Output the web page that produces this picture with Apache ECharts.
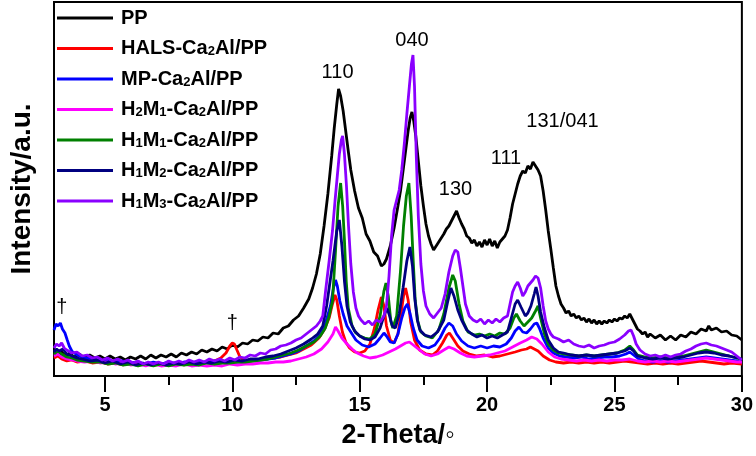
<!DOCTYPE html>
<html>
<head>
<meta charset="utf-8">
<title>XRD</title>
<script src="https://cdn.jsdelivr.net/npm/echarts@6/dist/echarts.min.js"></script>
<style>
  html, body { margin: 0; padding: 0; background: #fff; }
  #chart { width: 756px; height: 456px; }
</style>
</head>
<body>
<div id="chart"></div>
<script>
// series names and colours (legend order)
const seriesNames = ['PP', 'HALS-Ca2Al/PP', 'MP-Ca2Al/PP', 'H2M1-Ca2Al/PP', 'H1M1-Ca2Al/PP', 'H1M2-Ca2Al/PP', 'H1M3-Ca2Al/PP']
const seriesColors = ['#000000', '#ff0000', '#0000ff', '#ff00ff', '#008000', '#000080', '#8a00ff']

// x tick labels (2-Theta)
const majorTicks = [5, 10, 15, 20, 25, 30]
const minorTicks = [7.5, 12.5, 17.5, 22.5, 27.5]

// peak / marker annotations [2theta, intensity]
const peakLabels = [
  { name: '110', coord: [14.13, 304] },
  { name: '040', coord: [17.05, 336] },
  { name: '130', coord: [18.76, 187] },
  { name: '111', coord: [20.74, 218] },
  { name: '131/041', coord: [22.96, 255] },
  { name: '†', coord: [3.31, 69] },
  { name: '†', coord: [10.0, 53] }
]

// [2theta, intensity a.u.]
const PP = [
  [3.0,22],[3.1,25],[3.2,21],[3.3,24],[3.45,20],[3.6,23],[3.8,19],[4.0,22],[4.2,18],[4.4,21],[4.6,18],[4.8,20],[5.0,17],[5.2,20],[5.4,17],[5.6,19],[5.8,16],[6.0,19],[6.2,17],[6.4,20],[6.6,17],[6.8,21],[7.0,18],[7.2,21],[7.4,19],[7.6,22],[7.8,19],[8.0,23],[8.2,21],[8.4,24],[8.6,22],[8.8,26],[9.0,24],[9.2,27],[9.4,25],[9.6,29],[9.8,27],[10.0,31],[10.2,29],[10.4,33],[10.6,32],[10.8,36],[11.0,35],[11.2,39],[11.4,38],[11.6,43],[11.8,42],[12.0,48],[12.2,50],[12.4,56],[12.6,60],[12.8,68],[13.0,77],[13.15,88],[13.3,102],[13.45,122],[13.6,150],[13.75,182],[13.9,220],[14.0,248],[14.1,272],[14.17,287],[14.25,280],[14.35,265],[14.45,245],[14.55,225],[14.65,206],[14.8,185],[14.95,168],[15.1,158],[15.25,142],[15.4,135],[15.55,124],[15.7,120],[15.85,110],[15.95,112],[16.05,117],[16.2,130],[16.35,148],[16.5,170],[16.6,185],[16.7,205],[16.8,225],[16.9,245],[16.98,258],[17.05,264],[17.12,255],[17.2,240],[17.3,215],[17.4,190],[17.5,170],[17.6,152],[17.7,140],[17.8,132],[17.9,126],[18.0,130],[18.1,134],[18.2,138],[18.3,142],[18.4,147],[18.5,150],[18.6,155],[18.7,160],[18.8,165],[18.9,158],[19.0,152],[19.1,147],[19.2,140],[19.3,138],[19.4,133],[19.5,136],[19.6,130],[19.7,134],[19.8,129],[19.9,136],[20.0,131],[20.1,137],[20.2,130],[20.3,135],[20.4,128],[20.5,134],[20.6,137],[20.7,140],[20.8,146],[20.9,158],[21.0,172],[21.1,182],[21.2,192],[21.3,200],[21.4,205],[21.5,203],[21.6,210],[21.7,207],[21.8,214],[21.9,210],[22.0,206],[22.1,200],[22.2,185],[22.3,166],[22.4,145],[22.5,127],[22.6,108],[22.7,90],[22.8,80],[22.9,72],[23.0,68],[23.1,63],[23.2,65],[23.3,60],[23.4,62],[23.5,58],[23.6,60],[23.7,56],[23.8,58],[23.9,54],[24.0,57],[24.1,53],[24.2,56],[24.3,52],[24.4,55],[24.5,52],[24.6,55],[24.7,53],[24.8,56],[24.9,54],[25.0,57],[25.1,55],[25.2,58],[25.3,57],[25.4,60],[25.5,58],[25.6,62],[25.7,57],[25.8,52],[25.9,47],[26.0,45],[26.1,42],[26.2,44],[26.3,39],[26.4,42],[26.6,38],[26.8,41],[27.0,36],[27.2,40],[27.4,36],[27.6,41],[27.8,39],[28.0,44],[28.2,42],[28.4,47],[28.6,45],[28.7,50],[28.8,46],[29.0,48],[29.2,44],[29.4,45],[29.6,41],[29.8,40],[30.0,36]
]
const HALS = [
  [3.0,18],[3.15,20],[3.3,17],[3.5,15],[3.7,16],[3.9,14],[4.2,15],[4.5,13],[4.8,14],[5.1,12],[5.4,13],[5.7,11],[6.0,13],[6.3,11],[6.6,12],[6.9,11],[7.2,12],[7.5,11],[7.8,13],[8.1,11],[8.4,13],[8.7,12],[9.0,14],[9.3,15],[9.55,18],[9.75,23],[9.9,30],[10.0,33],[10.08,32],[10.18,26],[10.3,19],[10.45,16],[10.7,15],[11.0,16],[11.3,17],[11.6,18],[11.9,19],[12.2,21],[12.5,23],[12.8,27],[13.1,31],[13.4,38],[13.6,46],[13.8,58],[13.93,72],[14.03,81],[14.1,76],[14.2,60],[14.32,44],[14.45,34],[14.6,28],[14.8,24],[15.0,23],[15.2,25],[15.4,32],[15.58,48],[15.72,66],[15.85,79],[15.95,70],[16.05,50],[16.2,36],[16.35,33],[16.5,42],[16.62,62],[16.72,80],[16.8,88],[16.9,76],[17.0,54],[17.15,36],[17.35,26],[17.6,22],[17.85,21],[18.05,25],[18.25,33],[18.42,41],[18.52,43],[18.65,38],[18.85,30],[19.05,25],[19.3,22],[19.6,20],[19.9,21],[20.2,19],[20.5,20],[20.8,22],[21.1,24],[21.35,26],[21.55,27],[21.7,29],[21.85,27],[22.0,25],[22.2,20],[22.45,16],[22.7,14],[23.0,13],[23.3,14],[23.6,13],[23.9,14],[24.2,13],[24.5,14],[24.8,13],[25.1,14],[25.4,15],[25.7,14],[26.0,13],[26.3,12],[26.6,13],[26.9,12],[27.2,13],[27.5,12],[27.8,13],[28.1,14],[28.4,15],[28.7,14],[29.0,13],[29.3,12],[29.6,13],[30.0,12]
]
const MP = [
  [3.0,46],[3.08,52],[3.16,50],[3.25,53],[3.33,47],[3.43,43],[3.52,36],[3.6,30],[3.7,25],[3.85,22],[4.0,20],[4.2,18],[4.5,17],[4.8,15],[5.1,16],[5.4,14],[5.7,15],[6.0,13],[6.3,14],[6.6,12],[6.9,14],[7.2,12],[7.5,14],[7.8,12],[8.1,14],[8.4,13],[8.7,15],[9.0,13],[9.3,15],[9.6,14],[9.9,15],[10.2,14],[10.5,15],[10.8,16],[11.1,16],[11.4,17],[11.7,18],[12.0,20],[12.3,22],[12.6,25],[12.9,30],[13.2,35],[13.45,42],[13.65,52],[13.85,70],[13.97,88],[14.05,96],[14.12,90],[14.22,75],[14.35,62],[14.5,50],[14.65,44],[14.85,36],[15.1,31],[15.35,29],[15.6,32],[15.8,38],[15.95,43],[16.05,40],[16.2,34],[16.35,33],[16.5,42],[16.65,58],[16.77,68],[16.87,72],[16.98,62],[17.1,48],[17.25,36],[17.45,30],[17.7,28],[17.95,31],[18.15,38],[18.35,48],[18.5,53],[18.65,50],[18.8,42],[19.0,35],[19.25,30],[19.5,28],[19.75,30],[20.0,28],[20.25,30],[20.5,29],[20.75,32],[20.95,38],[21.1,45],[21.25,49],[21.4,44],[21.55,43],[21.7,47],[21.85,52],[21.95,53],[22.05,48],[22.2,38],[22.4,28],[22.6,23],[22.85,20],[23.1,19],[23.4,18],[23.7,19],[24.0,17],[24.3,18],[24.6,19],[24.9,19],[25.2,20],[25.45,22],[25.6,24],[25.75,21],[25.95,17],[26.2,15],[26.5,14],[26.8,15],[27.1,14],[27.4,15],[27.7,16],[28.0,17],[28.3,18],[28.6,19],[28.9,18],[29.2,17],[29.5,16],[29.8,15],[30.0,14]
]
const H2M1 = [
  [3.0,20],[3.15,22],[3.3,19],[3.5,17],[3.7,16],[3.9,15],[4.2,14],[4.5,15],[4.8,13],[5.1,14],[5.4,12],[5.7,13],[6.0,11],[6.3,12],[6.6,10],[6.9,12],[7.2,10],[7.5,11],[7.8,10],[8.1,12],[8.4,10],[8.7,11],[9.0,10],[9.3,11],[9.6,10],[9.9,12],[10.2,11],[10.5,12],[10.8,12],[11.1,13],[11.4,13],[11.7,14],[12.0,14],[12.3,15],[12.6,17],[12.9,19],[13.2,22],[13.5,27],[13.75,34],[13.95,42],[14.05,49],[14.15,45],[14.3,38],[14.5,32],[14.7,27],[14.9,23],[15.15,20],[15.4,18],[15.65,19],[15.9,21],[16.15,24],[16.4,27],[16.6,30],[16.8,33],[16.95,34],[17.1,31],[17.3,27],[17.55,22],[17.8,20],[18.05,22],[18.3,26],[18.5,29],[18.7,27],[18.95,23],[19.2,20],[19.5,19],[19.8,20],[20.1,21],[20.4,23],[20.7,25],[21.0,29],[21.3,33],[21.55,36],[21.75,39],[21.95,37],[22.15,32],[22.4,24],[22.65,19],[22.9,17],[23.2,16],[23.5,15],[23.8,16],[24.1,15],[24.4,16],[24.7,15],[25.0,16],[25.3,16],[25.6,17],[25.9,15],[26.2,14],[26.5,15],[26.8,14],[27.1,15],[27.4,14],[27.7,15],[28.0,16],[28.3,17],[28.6,18],[28.9,17],[29.2,16],[29.5,15],[29.8,14],[30.0,14]
]
const H1M1 = [
  [3.0,22],[3.15,25],[3.3,22],[3.5,19],[3.7,18],[3.9,16],[4.2,15],[4.5,14],[4.8,14],[5.1,12],[5.4,13],[5.7,11],[6.0,12],[6.3,10],[6.6,12],[6.9,10],[7.2,12],[7.5,10],[7.8,12],[8.1,11],[8.4,12],[8.7,11],[9.0,13],[9.3,12],[9.6,13],[9.9,13],[10.2,14],[10.5,14],[10.8,15],[11.1,16],[11.4,17],[11.7,19],[12.0,21],[12.3,23],[12.6,26],[12.9,30],[13.2,34],[13.45,40],[13.65,48],[13.8,60],[13.93,75],[14.05,125],[14.15,170],[14.25,193],[14.33,170],[14.4,136],[14.47,95],[14.55,68],[14.7,50],[14.85,43],[15.0,40],[15.2,38],[15.4,37],[15.6,42],[15.8,60],[15.95,85],[16.03,93],[16.12,80],[16.22,55],[16.3,48],[16.45,60],[16.6,105],[16.72,150],[16.83,180],[16.93,193],[17.02,160],[17.1,115],[17.18,75],[17.28,55],[17.4,44],[17.6,40],[17.85,38],[18.1,46],[18.3,62],[18.5,88],[18.65,101],[18.75,95],[18.9,72],[19.05,55],[19.25,44],[19.5,41],[19.7,42],[19.9,40],[20.1,42],[20.3,40],[20.5,43],[20.7,42],[20.9,48],[21.05,58],[21.15,62],[21.3,55],[21.45,50],[21.6,54],[21.75,58],[21.9,65],[22.0,70],[22.1,58],[22.25,42],[22.4,32],[22.6,26],[22.8,23],[23.0,22],[23.3,21],[23.6,20],[23.9,21],[24.2,20],[24.5,21],[24.8,22],[25.1,23],[25.4,26],[25.6,30],[25.75,26],[25.9,21],[26.2,19],[26.5,18],[26.8,19],[27.1,18],[27.4,19],[27.7,20],[28.0,22],[28.3,24],[28.6,26],[28.9,24],[29.2,22],[29.5,20],[29.8,18],[30.0,17]
]
const H1M2 = [
  [3.0,24],[3.1,27],[3.2,25],[3.35,27],[3.5,22],[3.7,20],[3.9,18],[4.1,17],[4.4,15],[4.7,16],[5.0,13],[5.3,15],[5.6,12],[5.9,14],[6.2,11],[6.5,13],[6.8,11],[7.1,13],[7.4,11],[7.7,13],[8.0,12],[8.3,14],[8.6,12],[8.9,14],[9.2,13],[9.5,15],[9.8,14],[10.1,16],[10.4,15],[10.7,17],[11.0,17],[11.3,19],[11.6,20],[11.9,22],[12.2,25],[12.5,28],[12.8,32],[13.1,37],[13.35,42],[13.55,50],[13.7,70],[13.8,88],[13.95,115],[14.1,145],[14.2,156],[14.3,130],[14.4,95],[14.5,70],[14.63,54],[14.8,45],[15.0,40],[15.2,37],[15.4,36],[15.6,39],[15.8,48],[15.95,60],[16.07,68],[16.15,62],[16.28,50],[16.4,48],[16.55,62],[16.7,88],[16.85,115],[16.97,129],[17.07,110],[17.16,78],[17.26,56],[17.36,46],[17.55,41],[17.8,39],[18.05,44],[18.3,56],[18.45,74],[18.58,88],[18.7,80],[18.85,66],[19.0,56],[19.2,46],[19.4,42],[19.6,39],[19.8,41],[20.0,38],[20.2,40],[20.4,38],[20.6,41],[20.8,44],[20.95,58],[21.1,72],[21.2,76],[21.33,69],[21.5,60],[21.6,63],[21.72,70],[21.85,82],[21.92,89],[22.0,80],[22.1,64],[22.25,48],[22.4,36],[22.6,28],[22.8,24],[23.0,23],[23.3,21],[23.6,20],[23.9,21],[24.2,20],[24.5,21],[24.8,22],[25.1,23],[25.4,25],[25.6,28],[25.75,25],[25.9,20],[26.2,18],[26.5,17],[26.8,18],[27.1,17],[27.4,18],[27.7,19],[28.0,21],[28.3,23],[28.6,24],[28.9,23],[29.2,21],[29.5,20],[29.8,18],[30.0,17]
]
const H1M3 = [
  [3.0,28],[3.1,32],[3.2,30],[3.3,33],[3.4,28],[3.5,26],[3.7,23],[3.9,24],[4.1,20],[4.3,21],[4.5,18],[4.7,19],[4.9,16],[5.1,18],[5.3,15],[5.5,17],[5.7,14],[5.9,16],[6.1,13],[6.3,15],[6.5,12],[6.7,14],[6.9,12],[7.1,14],[7.3,12],[7.5,15],[7.7,13],[7.9,15],[8.1,13],[8.3,16],[8.5,14],[8.7,16],[8.9,14],[9.1,17],[9.3,15],[9.5,17],[9.7,15],[9.9,18],[10.1,16],[10.3,19],[10.5,18],[10.7,21],[10.9,20],[11.1,23],[11.3,22],[11.5,26],[11.7,27],[11.9,30],[12.1,31],[12.3,33],[12.5,36],[12.7,38],[12.9,42],[13.1,46],[13.3,50],[13.45,55],[13.55,60],[13.66,85],[13.8,115],[13.93,145],[14.03,175],[14.12,200],[14.2,222],[14.28,236],[14.33,240],[14.4,222],[14.48,190],[14.56,150],[14.65,112],[14.75,84],[14.85,68],[14.95,60],[15.05,56],[15.2,52],[15.35,55],[15.5,51],[15.65,56],[15.8,54],[15.95,60],[16.05,70],[16.15,100],[16.25,140],[16.35,166],[16.45,176],[16.55,186],[16.65,206],[16.75,232],[16.85,262],[16.95,290],[17.03,312],[17.09,321],[17.15,290],[17.22,220],[17.3,160],[17.4,112],[17.5,85],[17.6,70],[17.75,62],[17.9,58],[18.05,63],[18.2,68],[18.35,82],[18.5,104],[18.65,120],[18.75,126],[18.85,124],[18.95,108],[19.05,90],[19.15,72],[19.3,60],[19.45,56],[19.6,54],[19.75,57],[19.9,52],[20.05,56],[20.2,53],[20.35,57],[20.5,54],[20.65,58],[20.8,60],[20.9,72],[21.0,84],[21.1,90],[21.2,94],[21.3,88],[21.4,80],[21.5,84],[21.6,90],[21.7,93],[21.8,96],[21.9,100],[22.0,98],[22.1,88],[22.2,70],[22.3,55],[22.4,47],[22.5,42],[22.6,39],[22.8,37],[23.0,34],[23.2,36],[23.4,32],[23.6,30],[23.8,29],[24.0,31],[24.2,28],[24.4,30],[24.6,31],[24.8,33],[25.0,34],[25.2,37],[25.4,41],[25.55,45],[25.65,46],[25.75,40],[25.85,32],[26.0,26],[26.2,22],[26.4,20],[26.6,21],[26.8,19],[27.0,21],[27.2,19],[27.4,21],[27.6,22],[27.8,25],[28.0,27],[28.2,30],[28.4,32],[28.6,33],[28.8,31],[29.0,30],[29.2,28],[29.4,26],[29.6,24],[29.8,20],[30.0,16]
]

const seriesData = [PP, HALS, MP, H2M1, H1M1, H1M2, H1M3]
const FONT = 'Arial, "Liberation Sans", sans-serif'

const chart = echarts.init(document.getElementById('chart'))

const series = seriesNames.map((name, i) => {
  const s = {
    name: name,
    type: 'line',
    data: seriesData[i],
    symbol: 'none',
    smooth: false,
    lineStyle: { color: seriesColors[i], width: 2.8 },
    itemStyle: { color: seriesColors[i] },
    z: 2 + i
  }
  if (i === 0) {
    // peak indices / dagger marks
    s.markPoint = {
      symbol: 'circle',
      symbolSize: 0,
      silent: true,
      label: {
        show: true,
        position: 'inside',
        formatter: '{b}',
        color: '#000',
        fontFamily: FONT,
        fontSize: 20
      },
      data: peakLabels.map(p => ({ name: p.name, coord: p.coord }))
    }
  }
  return s
})

const option = {
  animation: false,
  backgroundColor: '#fff',
  grid: {
    left: 48,
    right: 14,
    top: 2,
    bottom: 80,
    show: true,
    borderColor: '#000',
    borderWidth: 2,
    backgroundColor: 'transparent'
  },
  legend: {
    orient: 'vertical',
    left: 57,
    top: 8,
    padding: 0,
    itemGap: 10.5,
    icon: 'rect',
    itemWidth: 56,
    itemHeight: 3,
    data: seriesNames,
    formatter: name => name.replace(/(\d)/g, '{s|$1}'),
    textStyle: {
      fontFamily: FONT,
      fontSize: 20,
      fontWeight: 'bold',
      color: '#000',
      lineHeight: 20,
      padding: [0, 0, 0, 3],
      rich: {
        s: { fontFamily: FONT, fontSize: 13, fontWeight: 'bold', color: '#000', padding: [6, 0, 0, 0] }
      }
    }
  },
  xAxis: [
    {
      type: 'value',
      min: 3,
      max: 30,
      name: '2-Theta/◦',
      nameLocation: 'middle',
      nameGap: 46,
      nameTextStyle: { fontFamily: FONT, fontSize: 27, fontWeight: 'bold', color: '#000' },
      axisLine: { show: true, lineStyle: { color: '#000', width: 2 } },
      axisTick: { show: true, inside: false, length: 16, customValues: majorTicks, lineStyle: { color: '#000', width: 2 } },
      axisLabel: { show: true, customValues: majorTicks, margin: 19, fontFamily: FONT, fontSize: 20, fontWeight: 'bold', color: '#000' },
      splitLine: { show: false }
    },
    {
      type: 'value',
      min: 3,
      max: 30,
      position: 'bottom',
      axisLine: { show: false },
      axisTick: { show: true, inside: false, length: 9, customValues: minorTicks, lineStyle: { color: '#000', width: 2 } },
      axisLabel: { show: false },
      splitLine: { show: false }
    }
  ],
  yAxis: {
    type: 'value',
    min: 0,
    max: 374,
    name: 'Intensity/a.u.',
    nameLocation: 'middle',
    nameGap: 18,
    nameTextStyle: { fontFamily: FONT, fontSize: 28, fontWeight: 'bold', color: '#000' },
    axisLine: { show: true, lineStyle: { color: '#000', width: 2 } },
    axisTick: { show: false },
    axisLabel: { show: false },
    splitLine: { show: false }
  },
  series: series
}

chart.setOption(option)
</script>
</body>
</html>
